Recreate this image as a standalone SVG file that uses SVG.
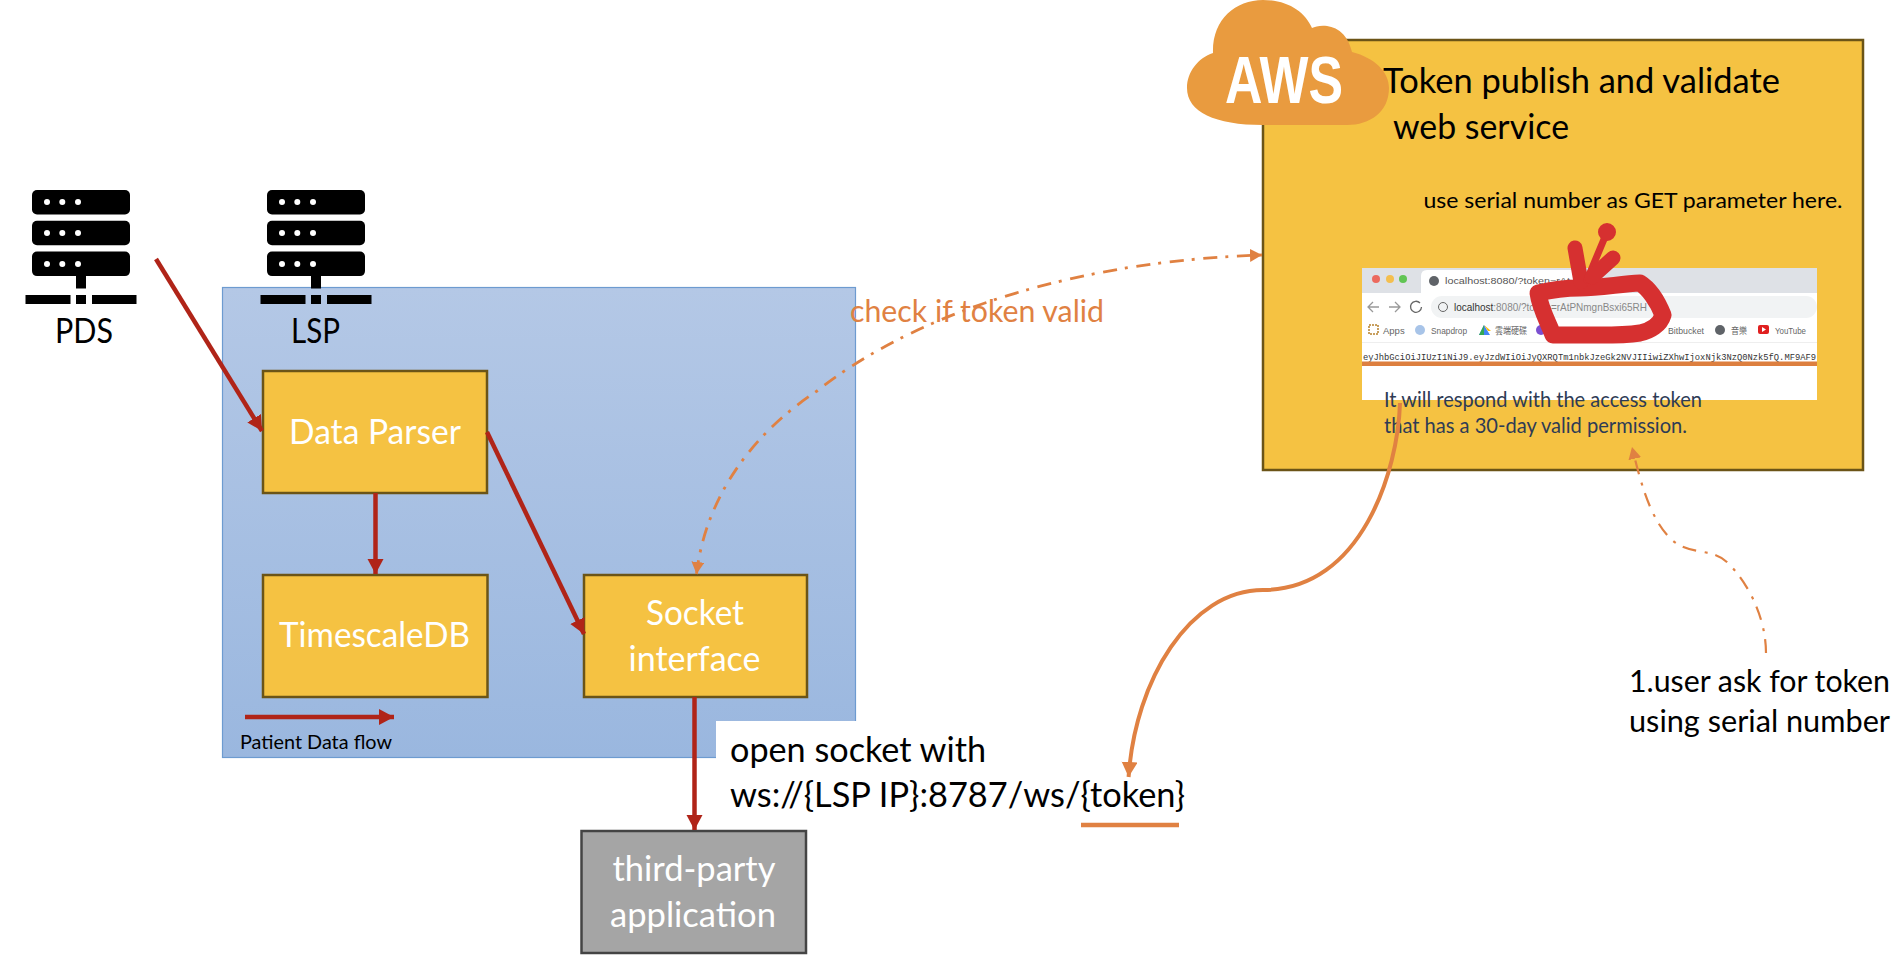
<svg xmlns="http://www.w3.org/2000/svg" width="1902" height="970" viewBox="0 0 1902 970">
<style>
text{font-family:Lato,"Liberation Sans","Noto Sans CJK TC",sans-serif}
.box{fill:#F5C242;stroke:#6B5417;stroke-width:2.5}
.w{fill:#fff;font-size:34px}
.k{fill:#000;font-size:34px}
.red{fill:none;stroke:#B02418;stroke-width:4.5;marker-end:url(#rh)}
.dd{fill:none;stroke:#E08142;stroke-width:2.8;stroke-dasharray:14 8 3 8.700;marker-end:url(#oh)}
.ui{fill:#555;font-size:9.5px;font-family:"Liberation Sans",sans-serif}
.bm{fill:#666;font-size:9.5px;font-family:"Liberation Sans","Noto Sans CJK TC",sans-serif}
.srv{fill:#000}.dot{fill:#fff}
</style>
<defs>
<linearGradient id="bg" x1="0" y1="0" x2="0" y2="1"><stop offset="0" stop-color="#B4C8E6"/><stop offset="1" stop-color="#9AB7DF"/></linearGradient>
<marker id="rh" markerUnits="userSpaceOnUse" markerWidth="16" markerHeight="18" refX="15" refY="8" orient="auto"><path d="M0 0L15 8L0 16Z" fill="#B02418"/></marker>
<marker id="oh" markerUnits="userSpaceOnUse" markerWidth="14" markerHeight="14" refX="12" refY="6.500" orient="auto-start-reverse"><path d="M0 0L12 6.500L0 13Z" fill="#E08142"/></marker>
<marker id="oh2" markerUnits="userSpaceOnUse" markerWidth="18" markerHeight="18" refX="15" refY="8" orient="auto"><path d="M0 0L15 8L0 16Z" fill="#E08142"/></marker>
<g id="srvicon">
<rect x="32" y="190" width="98" height="24.500" rx="5" class="srv"/><rect x="32" y="220.800" width="98" height="24.500" rx="5" class="srv"/><rect x="32" y="251.600" width="98" height="24.500" rx="5" class="srv"/>
<circle cx="47" cy="202" r="3" class="dot"/><circle cx="62.300" cy="202" r="3" class="dot"/><circle cx="78" cy="202" r="3" class="dot"/>
<circle cx="47" cy="233" r="3" class="dot"/><circle cx="62.300" cy="233" r="3" class="dot"/><circle cx="78" cy="233" r="3" class="dot"/>
<circle cx="47" cy="264" r="3" class="dot"/><circle cx="62.300" cy="264" r="3" class="dot"/><circle cx="78" cy="264" r="3" class="dot"/>
<rect x="76" y="276" width="10" height="12.500" class="srv"/><rect x="25.500" y="295" width="45" height="9" class="srv"/><rect x="76" y="295" width="10" height="9" class="srv"/><rect x="92" y="295" width="44.500" height="9" class="srv"/>
</g>
</defs>
<rect width="1902" height="970" fill="#fff"/>
<g id="lsp-zone"><rect x="222.500" y="287.500" width="633" height="470" fill="url(#bg)" stroke="#6D9BD0" stroke-width="1.200"/></g>
<rect x="716" y="721" width="141" height="38" fill="#fff"/>
<g id="pds"><use href="#srvicon"/><text class="k" x="55" y="342.500" textLength="58" lengthAdjust="spacingAndGlyphs">PDS</text></g>
<g id="lsp"><use href="#srvicon" x="235"/><text class="k" x="291" y="342.500" textLength="49" lengthAdjust="spacingAndGlyphs">LSP</text></g>
<g id="data-parser"><rect class="box" x="263" y="371" width="224" height="122"/><text class="w" x="289" y="443.500" textLength="172" lengthAdjust="spacingAndGlyphs">Data Parser</text></g>
<g id="timescaledb"><rect class="box" x="263" y="575" width="224.500" height="122"/><text class="w" x="279" y="646.500" textLength="191" lengthAdjust="spacingAndGlyphs">TimescaleDB</text></g>
<g id="socket-interface"><rect class="box" x="584" y="575" width="223" height="122"/><text class="w" x="646" y="624.500" textLength="98" lengthAdjust="spacingAndGlyphs">Socket</text><text class="w" x="628.500" y="670.500" textLength="132" lengthAdjust="spacingAndGlyphs">interface</text></g>
<g id="third-party"><rect x="581.500" y="831" width="224.500" height="122" fill="#A5A5A5" stroke="#444" stroke-width="2.500"/><text class="w" x="612.500" y="880.500" textLength="163" lengthAdjust="spacingAndGlyphs">third-party</text><text class="w" x="610" y="926.500" textLength="166" lengthAdjust="spacingAndGlyphs">application</text></g>
<g id="token-service">
<rect class="box" x="1263" y="40" width="600" height="430"/>
<text class="k" x="1383" y="93" style="font-size:35px" textLength="397" lengthAdjust="spacingAndGlyphs">Token publish and validate</text>
<text class="k" x="1393" y="139" style="font-size:35px" textLength="176" lengthAdjust="spacingAndGlyphs">web service</text>
<text x="1423.500" y="207.500" style="font-size:22px" textLength="419" lengthAdjust="spacingAndGlyphs">use serial number as GET parameter here.</text>
<g id="browser-shot">
<rect x="1362" y="268" width="455" height="132" fill="#fff"/>
<rect x="1362" y="268" width="455" height="25" fill="#DEE1E6"/>
<path d="M1421 293V276Q1421 270 1427 270H1575V293Z" fill="#fff"/>
<circle cx="1376" cy="279" r="4" fill="#EC6A5E"/><circle cx="1390" cy="279" r="4" fill="#F4BF4F"/><circle cx="1403" cy="279" r="4" fill="#61C554"/>
<circle cx="1434" cy="281" r="5" fill="#5F6368"/>
<text class="ui" x="1445" y="284" textLength="125" lengthAdjust="spacingAndGlyphs">localhost:8080/?token=rAt</text>
<rect x="1431" y="296" width="386" height="22" rx="11" fill="#F1F3F4"/>
<path d="M1379 307H1368M1373 302L1368 307L1373 312M1389 307H1400M1395 302L1400 307L1395 312" fill="none" stroke="#999" stroke-width="1.300"/>
<path d="M1420 303A5.500 5.500 0 1 0 1421.500 307" fill="none" stroke="#666" stroke-width="1.300"/>
<circle cx="1443" cy="307" r="4.500" fill="none" stroke="#666" stroke-width="1"/>
<text x="1454" y="311" style="font-family:'Liberation Sans',sans-serif;font-size:11px" fill="#888" textLength="193" lengthAdjust="spacingAndGlyphs"><tspan fill="#333">localhost</tspan>:8080/?token=rAtPNmgnBsxi65RH</text>
<rect x="1369" y="325" width="9" height="9" fill="none" stroke="#C8A060" stroke-width="2" stroke-dasharray="2 1"/>
<text class="bm" x="1383" y="334">Apps</text>
<circle cx="1420" cy="330" r="5" fill="#A8C4E8"/>
<text class="bm" x="1431" y="334" textLength="36" lengthAdjust="spacingAndGlyphs">Snapdrop</text>
<path d="M1484 325L1490 335H1479Z" fill="#4285F4"/><path d="M1484 325L1479 335H1484Z" fill="#34A853"/><path d="M1484 325L1488 331H1491Z" fill="#FBBC05"/>
<text class="bm" x="1495" y="334" textLength="32" lengthAdjust="spacingAndGlyphs">雲端硬碟</text>
<circle cx="1541" cy="330" r="5" fill="#7B4FD0"/>
<text class="bm" x="1668" y="334" textLength="36" lengthAdjust="spacingAndGlyphs">Bitbucket</text>
<circle cx="1720" cy="330" r="5" fill="#5F6368"/>
<text class="bm" x="1731" y="334" textLength="16" lengthAdjust="spacingAndGlyphs">音樂</text>
<rect x="1758" y="325" width="11" height="9" rx="2" fill="#E02020"/><path d="M1762 327L1766 329.500L1762 332Z" fill="#fff"/>
<text class="bm" x="1775" y="334" textLength="31" lengthAdjust="spacingAndGlyphs">YouTube</text>
<rect x="1362" y="342" width="455" height="1" fill="#EEE"/>
<text x="1363" y="360" style="font-family:'Liberation Mono',monospace;font-size:9px" fill="#333" textLength="453" lengthAdjust="spacingAndGlyphs">eyJhbGciOiJIUzI1NiJ9.eyJzdWIiOiJyQXRQTm1nbkJzeGk2NVJIIiwiZXhwIjoxNjk3NzQ0Nzk5fQ.MF9AF9</text>
<rect x="1362" y="361.500" width="455" height="4.500" fill="#DD7F3F"/>
</g>
<g id="scribble" fill="none" stroke="#D63030" stroke-linecap="round" stroke-linejoin="round">
<path stroke-width="17" d="M1538 293C1555 289 1565 288 1580 288C1600 288 1620 284 1640 283C1648 288 1657 300 1663 315C1660 325 1650 331 1640 333C1620 336 1600 335 1580 335L1553 335C1548 322 1540 308 1538 293Z"/>
<path stroke-width="15" d="M1581 282L1575 248"/>
<path stroke-width="7" d="M1587 280L1607 232"/>
<circle cx="1607" cy="232" r="4.500" stroke-width="9"/>
<path stroke-width="15" d="M1592 277L1613 258"/>
</g>
<text x="1384" y="407" style="font-size:21px" fill="#2E3B55" textLength="318" lengthAdjust="spacingAndGlyphs">It will respond with the access token</text>
<text x="1384" y="433" style="font-size:21px" fill="#2E3B55" textLength="303" lengthAdjust="spacingAndGlyphs">that has a 30-day valid permission.</text>
</g>
<g id="aws-cloud">
<path d="M1263 125C1215 125 1187 112 1187 88C1187 72 1198 58 1213 53C1212 20 1235 0 1263 0C1288 0 1305 12 1312 28C1320 24 1345 22 1352 52C1375 58 1389 72 1389 88C1389 112 1370 125 1347 125Z" fill="#E99B3F"/>
<text x="1225" y="103" style="font-family:'Liberation Sans',sans-serif;font-size:66px;font-weight:bold" fill="#fff" textLength="118" lengthAdjust="spacingAndGlyphs">AWS</text>
</g>
<g id="connectors">
<path class="red" d="M156 259L262 431"/>
<path class="red" d="M375.500 493V574"/>
<path class="red" d="M487 432L584 634"/>
<path class="red" d="M694.500 697V830"/>
<path class="red" d="M245 717H394"/>
<path class="dd" style="marker-start:url(#oh)" d="M696.500 574C704 510 740 442 817 391C900 325 1050 262 1262 255"/>
<path class="dd" style="stroke-width:2.200" d="M1766 653C1766 620 1750 585 1728 563C1712 547 1690 556 1672 540C1650 520 1640 480 1632 447"/>
<path fill="none" stroke="#E08142" stroke-width="4" marker-end="url(#oh2)" d="M1400 403C1398 470 1362 590 1263 590C1190 590 1135 680 1128.600 777"/>
<path fill="none" stroke="#E08142" stroke-width="4.500" d="M1081 825H1179"/>
</g>
<g id="labels">
<text x="240" y="749" style="font-size:20px" textLength="152" lengthAdjust="spacingAndGlyphs">Patient Data flow</text>
<text x="850" y="321.500" style="font-size:31px" fill="#E08142" textLength="254" lengthAdjust="spacingAndGlyphs">check if token valid</text>
<text class="k" x="730" y="762" textLength="256" lengthAdjust="spacingAndGlyphs">open socket with</text>
<text class="k" x="730" y="807" textLength="455" lengthAdjust="spacingAndGlyphs">ws://{LSP IP}:8787/ws/{token}</text>
<text x="1629" y="691.500" style="font-size:30px" textLength="261" lengthAdjust="spacingAndGlyphs">1.user ask for token</text>
<text x="1629" y="731.500" style="font-size:30px" textLength="261" lengthAdjust="spacingAndGlyphs">using serial number</text>
</g>
</svg>
